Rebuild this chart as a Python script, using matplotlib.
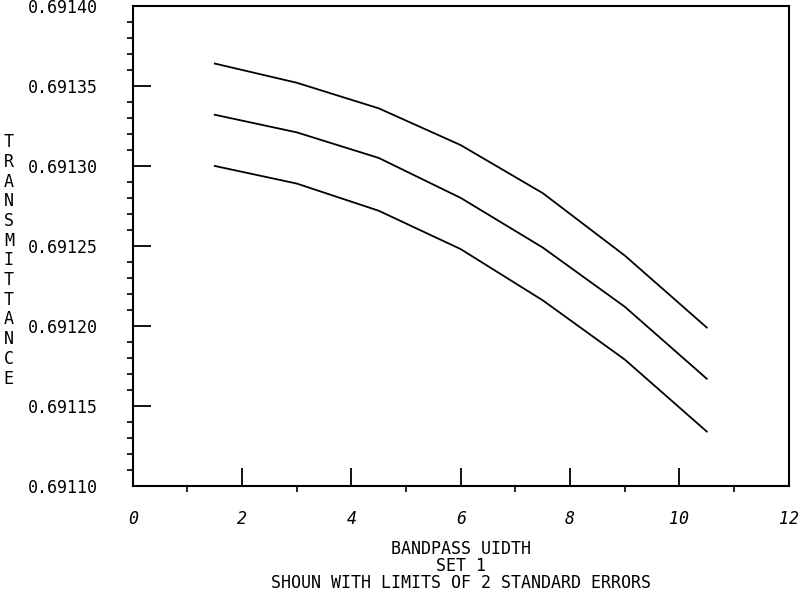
import numpy as np
import matplotlib
matplotlib.use("Agg")
import matplotlib.pyplot as plt
from matplotlib.ticker import MultipleLocator, FormatStrFormatter

# bandpass widths and the three curves (estimate +/- 2 standard errors)
width = [1.5, 3.0, 4.5, 6.0, 7.5, 9.0, 10.5]
upper = [0.691364, 0.691352, 0.691336, 0.691313, 0.691283, 0.691244, 0.691199]
estimate = [0.691332, 0.691321, 0.691305, 0.691280, 0.691249, 0.691212, 0.691167]
lower = [0.691300, 0.691289, 0.691272, 0.691248, 0.691216, 0.691179, 0.691134]

plt.rcParams['font.family'] = ['DejaVu Sans Mono']

fig = plt.figure(figsize=(8, 5.96), dpi=100)
ax = fig.add_axes([0.166, 0.1846, 0.820, 0.8054])

for ys in (upper, estimate, lower):
    ax.plot(width, ys, color='black', linewidth=1.3)

ax.set_xlim(0, 12)
ax.set_ylim(0.69110, 0.69140)

ax.xaxis.set_major_locator(MultipleLocator(2))
ax.xaxis.set_minor_locator(MultipleLocator(1))
ax.yaxis.set_major_locator(MultipleLocator(0.00005))
ax.yaxis.set_minor_locator(MultipleLocator(0.00001))
ax.yaxis.set_major_formatter(FormatStrFormatter('%.5f'))

for s in ax.spines.values():
    s.set_linewidth(1.5)

ax.tick_params(which='major', direction='in', length=13, width=1.3,
               labelsize=12)
ax.tick_params(which='minor', direction='out', length=4.5, width=1.2)
ax.tick_params(axis='y', which='major', pad=25)
ax.tick_params(axis='x', which='major', pad=17)
for lab in ax.get_xticklabels():
    lab.set_fontstyle('italic')

# vertical stacked y label
fig.text(0.011, 0.563, "\n".join("TRANSMITTANCE"), ha='center', va='center',
         fontsize=12, linespacing=1.12)

fig.text(0.576, 0.079, "BANDPASS UIDTH", ha='center', va='center', fontsize=12)
fig.text(0.576, 0.051, "SET 1", ha='center', va='center', fontsize=12)
fig.text(0.576, 0.022, "SHOUN WITH LIMITS OF 2 STANDARD ERRORS",
         ha='center', va='center', fontsize=12)

fig.savefig("out.png", dpi=100)
